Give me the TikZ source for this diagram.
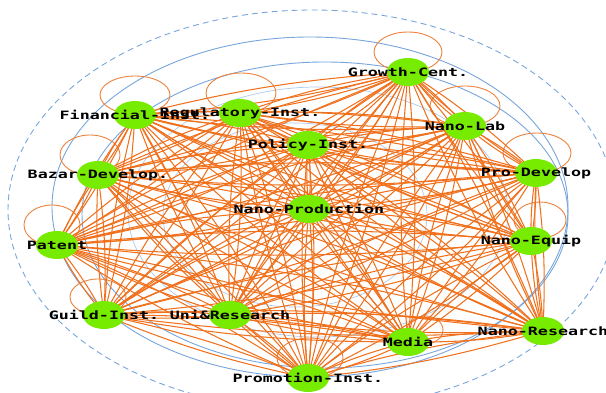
\documentclass[tikz,border=0pt]{standalone}
\usepackage{fontspec}
\usepackage{tikz}
\usetikzlibrary{shapes.geometric, backgrounds}
\newfontfamily\monolabel[FakeStretch=1.45]{DejaVu Sans Mono}
\definecolor{tieorange}{RGB}{240,112,28}
\definecolor{looporange}{RGB}{236,130,60}
\definecolor{ringblue}{RGB}{120,165,220}
\definecolor{actorgreen}{RGB}{120,236,0}
\tikzstyle{actor} = [ellipse, minimum width=42pt, minimum height=28pt, inner sep=0pt, fill=actorgreen]
\tikzstyle{actortext} = [font=\monolabel\bfseries\fontsize{11.5pt}{12pt}\selectfont, text=black, inner sep=0pt]
\tikzstyle{tie} = [line width=1.05pt, color=tieorange]
\tikzstyle{selfloop} = [line width=0.9pt, color=looporange]
\tikzstyle{ring} = [line width=0.9pt, color=ringblue]
\tikzstyle{faintring} = [line width=0.7pt, color=ringblue!60]

\begin{document}
\begin{tikzpicture}[x=1pt, y=-1pt]
\useasboundingbox (0,0) rectangle (606,393);

% Actors
\node[actor, label={[actortext]center:Growth-Cent.}] (growth) at (408,72) {};
\node[actor, label={[actortext]center:Nano-Lab}] (nanolab) at (465,126) {};
\node[actor, label={[actortext]center:Pro-Develop}] (prodev) at (536,173) {};
\node[actor, label={[actortext]center:Nano-Equip}] (nanoequip) at (531,241) {};
\node[actor, label={[actortext]center:Nano-Research}] (nanores) at (543,331) {};
\node[actor, label={[actortext]center:Media}] (media) at (408,342) {};
\node[actor, label={[actortext]center:Promotion-Inst.}] (promo) at (308,378) {};
\node[actor, label={[actortext]center:Uni\&Research}] (unires) at (230,315) {};
\node[actor, label={[actortext]center:Guild-Inst.}] (guild) at (104,315) {};
\node[actor, label={[actortext]center:Patent}] (patent) at (57,245) {};
\node[actor, label={[actortext]center:Bazar-Develop.}] (bazar) at (98,175) {};
\node[actor, label={[actortext]center:Financial-Inst.}] (financial) at (135,115) {};
\node[actor, label={[actortext]center:Regulatory-Inst.}] (regulatory) at (240,113) {};
\node[actor, label={[actortext]center:Policy-Inst.}] (policy) at (308,145) {};
\node[actor, label={[actortext]center:Nano-Production}] (nanoprod) at (309,209) {};

\begin{scope}[on background layer]
% Rings
\draw[ring, dashed, dash pattern=on 6pt off 4pt] (312,210) ellipse [x radius=304, y radius=200];
\draw[ring] (310,207) ellipse [x radius=258, y radius=170];
\draw[ring] (325,215) ellipse [x radius=243, y radius=153];
\draw[faintring] (318,212) ellipse [x radius=190, y radius=125];
\draw[faintring] (295,215) ellipse [x radius=132, y radius=92];

% Self loops
\foreach \n/\dx/\dy/\rx/\ry in {growth/0/-20/34/20, nanolab/0/-20/35/20, prodev/1/-20/34/20,
  nanoequip/9/-21/26/18, media/17/-12/18/14, promo/2/-20/33/20, guild/-6/-18/28/18,
  patent/-5/-20/28/20, bazar/-8/-20/30/20, financial/0/-20/35/19, regulatory/1/-20/35/20}
  \draw[selfloop] ([shift={(\dx,\dy)}]\n.center) ellipse [x radius=\rx, y radius=\ry];

% Ties (both directions, slightly bent)
\def\actors{growth,nanolab,prodev,nanoequip,nanores,media,promo,unires,guild,patent,bazar,financial,regulatory,policy,nanoprod}
\foreach \a [count=\i] in \actors {
  \foreach \b [count=\j] in \actors {
    \ifnum\j>\i
      \draw[tie] (\a.center) to[bend left=5] (\b.center);
      \draw[tie] (\b.center) to[bend left=5] (\a.center);
    \fi
  }
}
\end{scope}

\end{tikzpicture}
\end{document}
